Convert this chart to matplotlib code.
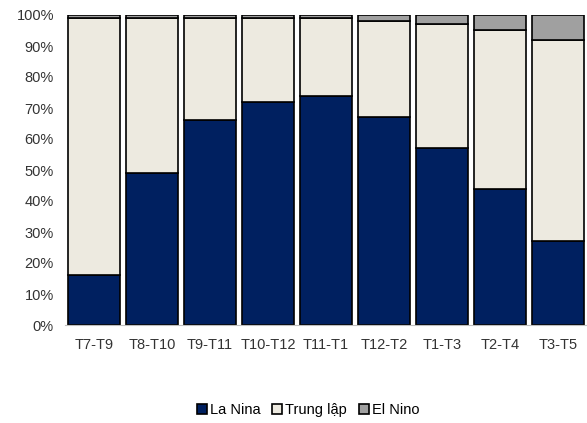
import matplotlib
matplotlib.use('Agg')
import matplotlib.pyplot as plt
from matplotlib.ticker import PercentFormatter

plt.rcParams['font.family'] = ['Liberation Sans', 'DejaVu Sans']

periods = ['T7-T9', 'T8-T10', 'T9-T11', 'T10-T12', 'T11-T1', 'T12-T2', 'T1-T3', 'T2-T4', 'T3-T5']
la_nina = [16, 49, 66, 72, 74, 67, 57, 44, 27]
trung_lap = [83, 50, 33, 27, 25, 31, 40, 51, 65]
el_nino = [1, 1, 1, 1, 1, 2, 3, 5, 8]

W, H = 587, 423
fig = plt.figure(figsize=(W / 100, H / 100), dpi=100)
ax = fig.add_axes([65 / W, 1 - 325 / H, 522 / W, 310 / H])

x = range(len(periods))
bw = 0.88
ax.bar(x, la_nina, bw, color='#002060', edgecolor='black', linewidth=1.2, label='La Nina')
ax.bar(x, trung_lap, bw, bottom=la_nina, color='#EDEAE0', edgecolor='black', linewidth=1.2, label='Trung lập')
bottoms = [a + b for a, b in zip(la_nina, trung_lap)]
ax.bar(x, el_nino, bw, bottom=bottoms, color='#A0A0A0', edgecolor='black', linewidth=1.2, label='El Nino')

ax.set_xlim(-0.5, len(periods) - 0.5)
ax.set_ylim(0, 100)
ax.set_yticks(range(0, 101, 10))
ax.yaxis.set_major_formatter(PercentFormatter(decimals=0))
ax.set_xticks(list(x))
ax.set_xticklabels(periods)
ax.tick_params(axis='both', length=0, labelsize=10.5, colors='#333333')
ax.tick_params(axis='x', pad=9)
ax.tick_params(axis='y', pad=8)
for s in ['top', 'right', 'left']:
    ax.spines[s].set_visible(False)
ax.spines['bottom'].set_color('#BFBFBF')

fig.legend(loc='center', bbox_to_anchor=(308 / W, 1 - 410 / H), ncol=3, frameon=False,
           fontsize=10.5, handlelength=0.7, handleheight=0.7, handletextpad=0.2, columnspacing=0.8)

fig.savefig('out.png', dpi=100)
